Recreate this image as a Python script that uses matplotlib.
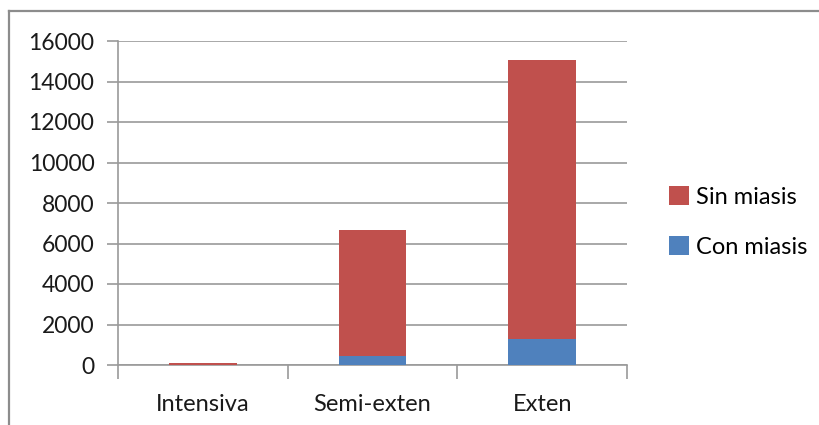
import matplotlib

matplotlib.use("Agg")

import matplotlib.pyplot as plt
from matplotlib.lines import Line2D

categories = ["Intensiva", "Semi-exten", "Exten"]
con_miasis = [5, 445, 1270]
sin_miasis = [70, 6205, 13790]
y_ticks = [0, 2000, 4000, 6000, 8000, 10000, 12000, 14000, 16000]

RED = "#C0504D"
BLUE = "#4F81BD"
GRID = "#9a9a9a"
TEXT = "#1a1a1a"

plt.rcParams["font.family"] = ["Lato", "DejaVu Sans"]

fig = plt.figure(figsize=(8.2, 4.25), dpi=100)
# outer chart frame: only the top and left edges fall inside the image
frame_x = 9 / 820
frame_y = 1 - 11 / 425
fig.add_artist(Line2D([frame_x, 1.0], [frame_y, frame_y], color="#8c8c8c",
                      linewidth=1.6, transform=fig.transFigure))
fig.add_artist(Line2D([frame_x, frame_x], [0.0, frame_y], color="#8c8c8c",
                      linewidth=1.6, transform=fig.transFigure))

ax = fig.add_axes([118 / 820, 60 / 425, 509 / 820, 324 / 425])
x = range(len(categories))
ax.bar(x, con_miasis, width=0.4, color=BLUE, label="Con miasis", zorder=3)
ax.bar(x, sin_miasis, width=0.4, bottom=con_miasis, color=RED,
       label="Sin miasis", zorder=3)

ax.set_xlim(-0.5, len(categories) - 0.5)
ax.set_ylim(0, 16000)
ax.set_yticks(y_ticks)
ax.set_yticklabels([str(v) for v in y_ticks], fontsize=16.5, color=TEXT)
ax.set_xticks([i - 0.5 for i in range(len(categories) + 1)])
ax.set_xticklabels([])
ax.set_xticks(list(x), minor=True)
ax.set_xticklabels(categories, minor=True, fontsize=17, color=TEXT)
ax.tick_params(axis="x", which="major", length=10, color=GRID, width=1.2)
ax.tick_params(axis="x", which="minor", length=0, pad=21)
ax.tick_params(axis="y", length=8, color=GRID, width=1.2, pad=9)

ax.grid(axis="y", color=GRID, linewidth=1.2, zorder=0)
for side in ("top", "right"):
    ax.spines[side].set_visible(False)
for side in ("left", "bottom"):
    ax.spines[side].set_color(GRID)
    ax.spines[side].set_linewidth(1.2)

handles, labels = ax.get_legend_handles_labels()
fig.legend(handles[::-1], labels[::-1], loc="center left",
           bbox_to_anchor=(648 / 820, 1 - 222 / 425), frameon=False,
           fontsize=17, handlelength=0.85, handleheight=0.85,
           handletextpad=0.3, labelspacing=1.2)

fig.savefig("out.png", dpi=100)
